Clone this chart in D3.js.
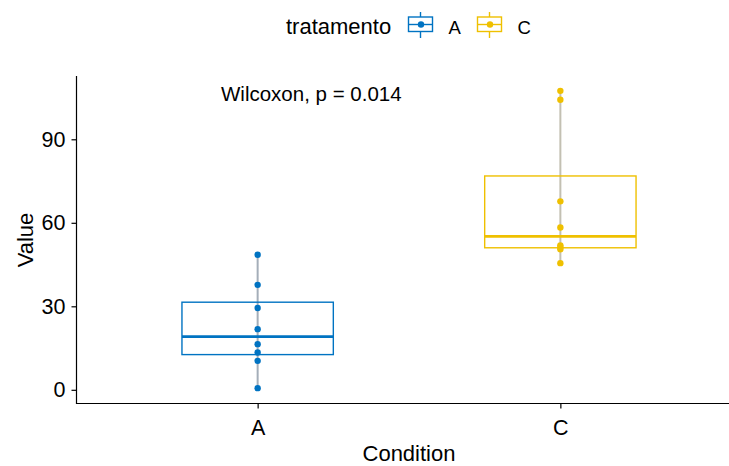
<!DOCTYPE html>
<html>
<head>
<meta charset="utf-8">
<script src="https://cdn.jsdelivr.net/npm/d3@7"></script>
<style>
  body { margin: 0; background: #fff; }
  text { font-family: "Liberation Sans", Arial, sans-serif; fill: #000; }
</style>
</head>
<body>
<div id="chart"></div>
<script>
(function () {
  const categories = ['A', 'C'];
  const valuesA = [0.6, 10.4, 13.4, 16.4, 21.8, 29.4, 37.7, 48.5];
  const valuesC = [45.5, 50.5, 51.2, 51.9, 58.3, 67.7, 104.2, 107.4];
  const yTicks = [0, 30, 60, 90];
  const colors = ['#0073C2', '#EFC000'];
  const lineColors = ['#a4aeb9', '#c3c0b2'];
  const pValueLabel = 'Wilcoxon, p = 0.014';

  const series = [valuesA, valuesC];
  const w = 729;
  const h = 466;

  const svg = d3.select('#chart')
    .append('svg')
    .attr('width', w)
    .attr('height', h);

  const all = valuesA.concat(valuesC);
  const lo = d3.min(all), hi = d3.max(all);
  const pad = (hi - lo) * 0.05;

  const x = d3.scalePoint()
    .domain(categories)
    .range([76, 742])
    .padding(0.6);

  const y = d3.scaleLinear()
    .domain([lo - pad, hi + pad])
    .range([403, 76]);

  const boxW = x.step() * 0.5;

  // axes
  const yAxis = svg.append('g')
    .attr('transform', 'translate(76.5, 0)')
    .call(d3.axisLeft(y).tickValues(yTicks).tickSize(5).tickPadding(5));
  const xAxis = svg.append('g')
    .attr('transform', 'translate(0, 403.5)')
    .call(d3.axisBottom(x).tickSize(5).tickPadding(5));

  [yAxis, xAxis].forEach((g) => {
    g.select('.domain').attr('stroke', '#000').attr('stroke-width', 1.2);
    g.selectAll('.tick line').attr('stroke', '#000').attr('stroke-width', 1.2);
    g.selectAll('.tick text').style('font-size', '21.5px').attr('fill', '#000');
  });
  yAxis.select('.domain').attr('d', 'M0,76V404');
  xAxis.select('.domain').attr('d', 'M76,0H742');
  xAxis.selectAll('.tick text').attr('dy', '0.71em').attr('y', 16);
  yAxis.selectAll('.tick text').attr('x', -11);

  // boxes
  series.forEach((vals, i) => {
    const s = vals.slice().sort(d3.ascending);
    const q1 = d3.quantile(s, 0.25);
    const med = d3.quantile(s, 0.5);
    const q3 = d3.quantile(s, 0.75);
    const iqr = q3 - q1;
    const wLo = d3.min(s.filter((v) => v >= q1 - 1.5 * iqr));
    const wHi = d3.max(s.filter((v) => v <= q3 + 1.5 * iqr));
    const cx = x(categories[i]);
    const g = svg.append('g');

    g.append('line')
      .attr('x1', cx).attr('x2', cx)
      .attr('y1', y(wLo)).attr('y2', y(wHi))
      .attr('stroke', lineColors[i])
      .attr('stroke-width', 2);

    g.append('rect')
      .attr('x', cx - boxW / 2)
      .attr('y', y(q3))
      .attr('width', boxW)
      .attr('height', y(q1) - y(q3))
      .attr('fill', 'none')
      .attr('stroke', colors[i])
      .attr('stroke-width', 1.4);

    g.append('line')
      .attr('x1', cx - boxW / 2).attr('x2', cx + boxW / 2)
      .attr('y1', y(med)).attr('y2', y(med))
      .attr('stroke', colors[i])
      .attr('stroke-width', 2.8);

    g.selectAll('circle')
      .data(vals)
      .enter()
      .append('circle')
      .attr('cx', cx)
      .attr('cy', (d) => y(d))
      .attr('r', 3.2)
      .attr('fill', colors[i]);
  });

  // p-value
  svg.append('text')
    .attr('x', 221)
    .attr('y', 101)
    .style('font-size', '20.5px')
    .text(pValueLabel);

  // axis titles
  svg.append('text')
    .attr('x', x.range()[0] / 2 + x.range()[1] / 2)
    .attr('y', 461)
    .attr('text-anchor', 'middle')
    .style('font-size', '22px')
    .text('Condition');

  svg.append('text')
    .attr('transform', 'translate(33, 240) rotate(-90)')
    .attr('text-anchor', 'middle')
    .style('font-size', '22px')
    .text('Value');

  // legend
  const legend = svg.append('g');
  legend.append('text')
    .attr('x', 286)
    .attr('y', 33.5)
    .style('font-size', '22px')
    .text('tratamento');

  const keyX = [408.5, 477.5];
  categories.forEach((c, i) => {
    const k = legend.append('g').attr('transform', 'translate(' + keyX[i] + ', 0)');
    k.append('line')
      .attr('x1', 12).attr('x2', 12).attr('y1', 12).attr('y2', 38)
      .attr('stroke', colors[i]).attr('stroke-width', 1.4);
    k.append('rect')
      .attr('x', 0).attr('y', 17).attr('width', 24).attr('height', 14.5)
      .attr('fill', '#fff').attr('stroke', colors[i]).attr('stroke-width', 1.4);
    k.append('line')
      .attr('x1', 0).attr('x2', 24).attr('y1', 24.5).attr('y2', 24.5)
      .attr('stroke', colors[i]).attr('stroke-width', 1.4);
    k.append('circle')
      .attr('cx', 12.5).attr('cy', 24.5).attr('r', 3.2)
      .attr('fill', colors[i]);
    k.append('text')
      .attr('x', 40)
      .attr('y', 33.5)
      .style('font-size', '18.5px')
      .text(c);
  });
})();
</script>
</body>
</html>
